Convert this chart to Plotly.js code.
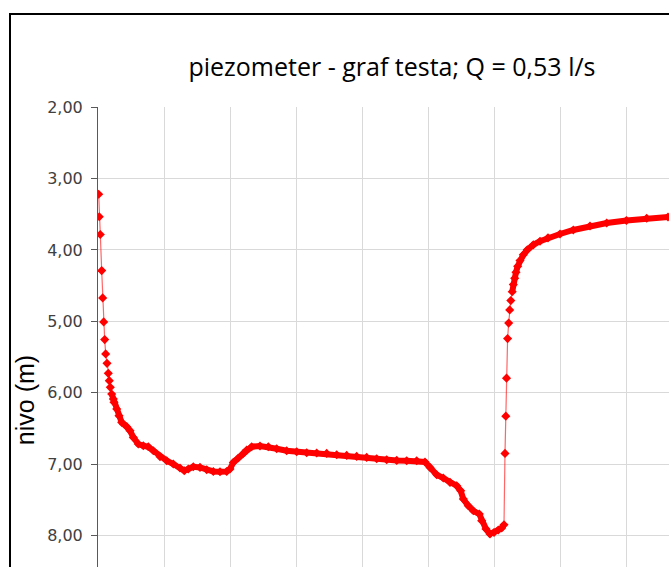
<!DOCTYPE html>
<html>
<head>
<meta charset="utf-8">
<script src="https://cdn.plot.ly/plotly-3.0.1.min.js"></script>
<style>
  html, body { margin: 0; padding: 0; background: #fff; overflow: hidden; width: 669px; height: 567px; }
  #chart { position: absolute; left: 0; top: 0; width: 760px; height: 745px; }
  #frame { position: absolute; left: 9px; top: 13px; width: 800px; height: 780px;
           border-left: 2px solid #000; border-top: 2px solid #000; pointer-events: none; }
</style>
</head>
<body>
<div id="chart"></div>
<div id="frame"></div>
<script>
// time (arbitrary units, gridline every 20) and water level (m)
const timeVals = [
  0.21, 0.39, 0.70, 1.12, 1.42, 1.73, 2.03, 2.33, 2.73, 3.12, 3.42, 3.73, 4.15, 4.64, 4.85,
  5.67, 6.36, 7.18, 8.70, 9.70, 10.70, 12.21, 13.73, 15.24, 16.76, 18.79, 20.82, 22.82, 24.85,
  26.15, 27.36, 28.88, 30.91, 32.94, 34.94, 36.97, 39.0, 40.0, 41.0, 42.52, 44.03, 45.06, 46.58,
  49.09, 51.61, 54.15, 57.18, 60.21, 63.24, 66.27, 69.3, 72.33, 75.36, 78.39, 81.42, 84.45,
  87.48, 90.52, 93.55, 96.58, 99.09, 100.6, 102.64, 104.64, 106.67, 108.70, 109.91, 110.70,
  112.21, 113.73, 115.55, 116.27, 117.58, 118.79, 120.0, 121.3, 122.33, 123.03,
  123.33, 123.58, 123.79, 124.12, 124.45, 124.76, 125.09, 125.52, 125.85, 126.27, 126.67,
  127.18, 127.88, 128.88, 130.09, 131.91, 133.94, 136.36, 140.0, 144.03, 149.09, 154.15,
  160.12, 166.27, 172.73, 178.0
];
const nivoVals = [
  3.22, 3.536, 3.784, 4.289, 4.671, 5.007, 5.255, 5.455, 5.587, 5.727, 5.829, 5.923, 6.015, 6.085, 6.133,
  6.225, 6.319, 6.413, 6.473, 6.529, 6.623, 6.716, 6.740, 6.754, 6.810, 6.894, 6.950, 6.996, 7.052,
  7.090, 7.066, 7.034, 7.043, 7.076, 7.100, 7.104, 7.100, 7.066, 6.973, 6.912, 6.847, 6.800, 6.754,
  6.744, 6.754, 6.782, 6.810, 6.824, 6.838, 6.842, 6.847, 6.866, 6.875, 6.889, 6.903, 6.922,
  6.936, 6.945, 6.950, 6.950, 6.968, 7.043, 7.146, 7.192, 7.253, 7.300, 7.370, 7.486,
  7.580, 7.650, 7.696, 7.790, 7.906, 7.976, 7.954, 7.920, 7.892, 7.846,
  6.847, 6.326, 5.794, 5.241, 5.024, 4.839, 4.709, 4.585, 4.485, 4.396, 4.312,
  4.228, 4.148, 4.069, 3.999, 3.929, 3.878, 3.831, 3.777, 3.721, 3.665, 3.623,
  3.588, 3.556, 3.539, 3.53
];
const yTicks = [2, 3, 4, 5, 6, 7, 8];
const chartTitle = 'piezometer - graf testa; Q = 0,53 l/s';
const yTitle = 'nivo (m)';

// thick band where samples are so dense that markers merge
const bandX = [], bandY = [];
for (let i = 0; i < timeVals.length; i++) {
  const t = timeVals[i];
  if (t < 4.1) continue;
  if (t > 123.1 && t < 125.4) {
    if (bandX.length && bandX[bandX.length - 1] !== null) { bandX.push(null); bandY.push(null); }
    continue;
  }
  bandX.push(t); bandY.push(nivoVals[i]);
}

const traces = [
  {
    x: bandX, y: bandY, type: 'scatter', mode: 'lines',
    line: { color: '#ff0000', width: 6 }, connectgaps: false,
    hoverinfo: 'skip', showlegend: false
  },
  {
    x: timeVals, y: nivoVals, type: 'scatter', mode: 'lines+markers',
    line: { color: 'rgba(255,0,0,0.6)', width: 1.2 },
    marker: { symbol: 'diamond', size: 7, color: '#ff0000' },
    showlegend: false
  }
];

const W = 760, H = 745;
const layout = {
  width: W, height: H,
  margin: { l: 98, t: 107, r: 68, b: 52, pad: 0 },
  paper_bgcolor: '#ffffff', plot_bgcolor: '#ffffff',
  separators: ',.',
  showlegend: false,
  title: {
    text: chartTitle,
    font: { family: 'Open Sans, sans-serif', size: 25, color: '#000000' },
    xref: 'container', yref: 'container',
    x: 392 / W, y: 1 - 67 / H, xanchor: 'center', yanchor: 'middle'
  },
  xaxis: {
    range: [0, 180], tick0: 0, dtick: 20,
    showgrid: true, gridcolor: '#d9d9d9', gridwidth: 1,
    zeroline: false, showline: true, linecolor: '#595959',
    showticklabels: false
  },
  yaxis: {
    range: [10.2, 2], tickvals: yTicks, tickformat: '.2f',
    showgrid: true, gridcolor: '#d9d9d9', gridwidth: 1,
    zeroline: false, showline: true, linecolor: '#595959', linewidth: 1,
    ticks: 'outside', ticklen: 6, tickcolor: '#595959',
    ticklabelstandoff: 5,
    tickfont: { family: 'DejaVu Sans, sans-serif', size: 16, color: '#404040' },
    title: { text: yTitle, font: { family: 'Liberation Sans, Arial', size: 25, color: '#000000' }, standoff: 5 }
  }
};

Plotly.newPlot('chart', traces, layout, { displayModeBar: false, staticPlot: true });
</script>
</body>
</html>
